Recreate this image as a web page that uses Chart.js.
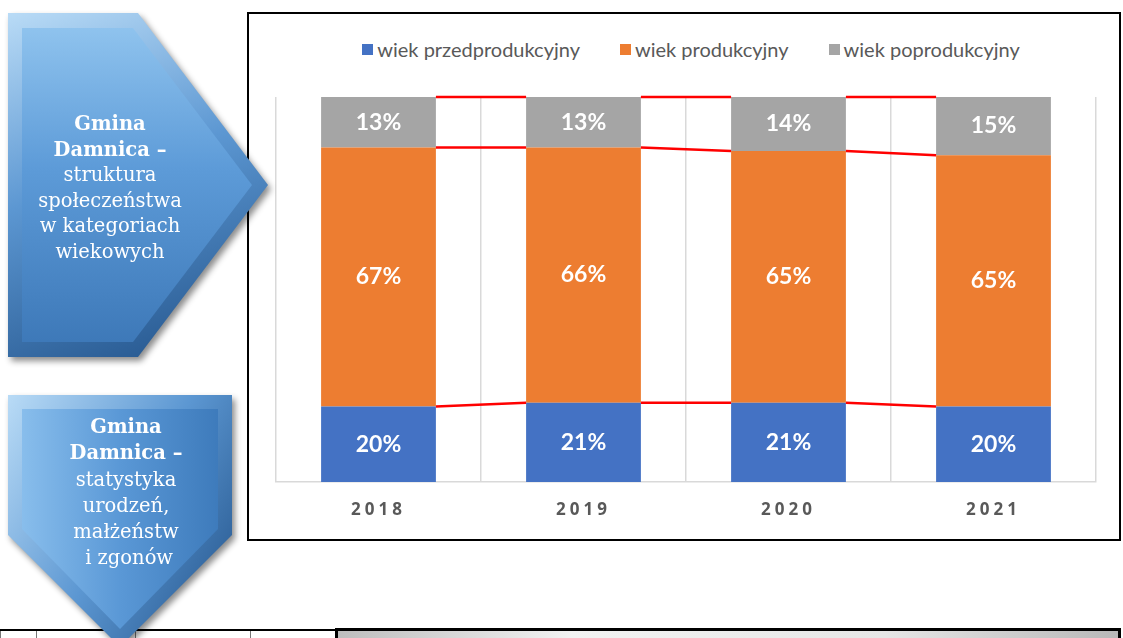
<!DOCTYPE html>
<html>
<head>
<meta charset="utf-8">
<script src="https://cdn.jsdelivr.net/npm/chart.js@4.4.0/dist/chart.umd.min.js"></script>
<style>
  body { margin: 0; width: 1123px; height: 638px; overflow: hidden; position: relative; background: #fff; }
  .shape { position: absolute; z-index: 5; filter: drop-shadow(3px 4px 3px rgba(0,0,0,.45)); }
  .shape .outer, .shape .inner { position: absolute; left: 0; top: 0; width: 100%; height: 100%; }
  .shape .txt { position: absolute; color: #fff; text-align: center; font-family: 'DejaVu Serif', serif; font-size: 19.5px; line-height: 25.5px; }
  .shape .txt b { font-weight: bold; }
  #s1 { left: 8px; top: 13px; width: 260px; height: 344px; }
  #s1 .outer { clip-path: polygon(0 0, 130px 0, 260px 172px, 130px 344px, 0 344px);
    background: linear-gradient(160deg, #b9dbf6 0%, #5c97d2 45%, #1f4f86 100%); }
  #s1 .inner { clip-path: polygon(14px 15px, 125px 15px, 244px 172px, 125px 329px, 14px 329px);
    background: linear-gradient(180deg, #94c7f0 0%, #5d9bd8 45%, #3b76b6 100%); }
  #s1 .txt { left: 0; width: 204px; top: 98px; }
  #s2 { left: 8px; top: 395px; width: 224px; height: 252px; }
  #s2 .outer { clip-path: polygon(0 0, 224px 0, 224px 140px, 112px 252px, 0 140px);
    background: linear-gradient(120deg, #b9dbf6 0%, #5c97d2 50%, #1f4f86 100%); }
  #s2 .inner { clip-path: polygon(14px 14px, 210px 14px, 210px 134px, 112px 234px, 14px 134px);
    background: linear-gradient(90deg, #8fc3ef 0%, #5a98d6 50%, #3a77b8 100%); }
  #s2 .txt { left: 0; width: 236px; top: 19px; line-height: 26.3px; }
  #box { position: absolute; left: 247px; top: 12px; width: 874px; height: 529px; box-sizing: border-box; border: 2px solid #000; background: #fff; }
  #wrap { position: absolute; left: 0; top: 0; width: 870px; height: 525px; }
  #legend { position: absolute; left: 0; top: 23px; width: 884px; display: flex; justify-content: center; gap: 40px;
    font-family: Lato, sans-serif; font-size: 20px; color: #595959; }
  #legend span.item { display: flex; align-items: center; }
  #legend i { display: inline-block; width: 11px; height: 11px; margin-right: 4px; }
  #strip { position: absolute; left: 0; top: 629px; width: 337px; height: 12px; border-top: 2px solid #000; }
  #strip div { position: absolute; top: 0; height: 12px; border-left: 1px solid #777; }
  #grey { position: absolute; left: 335px; top: 628px; width: 786px; height: 20px; box-sizing: border-box; border: 3px solid #000;
    background: linear-gradient(90deg, #bdbdbd 0%, #f2f2f2 30%, #e6e6e6 70%, #b8b8b8 100%); }
</style>
</head>
<body>
<div id="strip"><div style="left:0"></div><div style="left:36px"></div><div style="left:135px"></div><div style="left:250px"></div></div>
<div id="grey"></div>

<div class="shape" id="s1">
  <div class="outer"></div><div class="inner"></div>
  <div class="txt"><b>Gmina<br>Damnica –</b><br>struktura<br>społeczeństwa<br>w kategoriach<br>wiekowych</div>
</div>
<div class="shape" id="s2">
  <div class="outer"></div><div class="inner"></div>
  <div class="txt"><b>Gmina<br>Damnica –</b><br>statystyka<br>urodzeń,<br>małżeństw<br>&nbsp;i zgonów</div>
</div>

<div id="box">
  <div id="legend"></div>
  <div id="wrap"><canvas id="chart"></canvas></div>
</div>

<script>
// data (shares of population, %)
const years = ['2018', '2019', '2020', '2021'];
const seriesNames = ['wiek przedprodukcyjny', 'wiek produkcyjny', 'wiek poprodukcyjny'];
const seriesColors = ['#4472c4', '#ed7d31', '#a5a5a5'];
const przedprodukcyjny = [19.6, 20.6, 20.6, 19.6];
const produkcyjny = [67.3, 66.3, 65.4, 65.3];
const poprodukcyjny = [13.1, 13.1, 14.0, 15.1];

// html legend
const legendEl = document.getElementById('legend');
seriesNames.forEach((name, i) => {
    legendEl.innerHTML += `<span class="item"><i style="background:${seriesColors[i]}"></i>${name}</span>`;
});

// red connector lines between the stacks
const seriesLines = {
    id: 'seriesLines',
    afterDatasetsDraw(chart) {
        const ctx = chart.ctx;
        ctx.save();
        ctx.strokeStyle = '#ff0000';
        ctx.lineWidth = 2.5;
        chart.data.datasets.forEach((ds, di) => {
            const bars = chart.getDatasetMeta(di).data;
            for (let i = 0; i < bars.length - 1; i++) {
                const a = bars[i], b = bars[i + 1];
                ctx.beginPath();
                ctx.moveTo(a.x + a.width / 2, a.y);
                ctx.lineTo(b.x - b.width / 2, b.y);
                ctx.stroke();
            }
        });
        ctx.restore();
    }
};

// value labels in the middle of each segment
const barLabels = {
    id: 'barLabels',
    afterDatasetsDraw(chart) {
        const ctx = chart.ctx;
        ctx.save();
        ctx.fillStyle = '#fff';
        ctx.font = 'bold 23px Lato, sans-serif';
        ctx.textAlign = 'center';
        ctx.textBaseline = 'middle';
        chart.data.datasets.forEach((ds, di) => {
            chart.getDatasetMeta(di).data.forEach((bar, i) => {
                ctx.fillText(Math.round(ds.data[i]) + '%', bar.x, (bar.y + bar.base) / 2);
            });
        });
        ctx.restore();
    }
};

// spaced-out year labels
const spacedTicks = {
    id: 'spacedTicks',
    afterLayout(chart) {
        const x = chart.scales.x;
        if (x._spaced) return;
        const orig = x.drawLabels;
        x.drawLabels = function(area) {
            chart.ctx.save();
            chart.ctx.letterSpacing = '4px';
            orig.call(this, area);
            chart.ctx.restore();
        };
        x._spaced = true;
    }
};

const ctx = document.getElementById('chart').getContext('2d');
const myChart = new Chart(ctx, {
    type: 'bar',
    data: {
        labels: years,
        datasets: [
            { label: seriesNames[0], data: przedprodukcyjny, backgroundColor: seriesColors[0] },
            { label: seriesNames[1], data: produkcyjny, backgroundColor: seriesColors[1] },
            { label: seriesNames[2], data: poprodukcyjny, backgroundColor: seriesColors[2] }
        ]
    },
    options: {
        responsive: true,
        maintainAspectRatio: false,
        animation: false,
        categoryPercentage: 1,
        barPercentage: 0.56,
        layout: { padding: { left: 27, right: 23, top: 83, bottom: 0 } },
        scales: {
            x: {
                stacked: true,
                grid: { offset: true, color: '#d9d9d9', lineWidth: 1.5, drawTicks: false },
                border: { color: '#d9d9d9', width: 1.5 },
                ticks: { color: '#595959', padding: 20, font: { family: "'Open Sans', sans-serif", size: 17, weight: 'bold', lineHeight: 1 } }
            },
            y: {
                stacked: true,
                display: false,
                min: 0,
                max: 100
            }
        },
        plugins: {
            legend: { display: false },
            tooltip: { enabled: false }
        }
    },
    plugins: [seriesLines, barLabels, spacedTicks]
});
</script>
</body>
</html>
